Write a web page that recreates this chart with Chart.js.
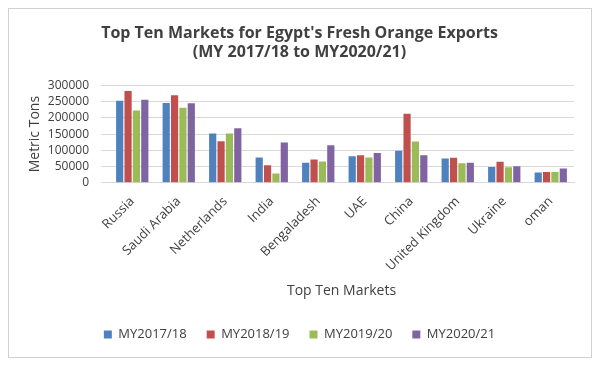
<!DOCTYPE html>
<html>
<head>
<meta charset="utf-8">
<script src="https://cdn.jsdelivr.net/npm/chart.js@4"></script>
<style>
  body { margin: 0; background: #fff; }
  #wrap { width: 600px; height: 367px; }
</style>
</head>
<body>
<div id="wrap"><canvas id="naranjas"></canvas></div>
<script>
const mercados = ["Russia", "Saudi Arabia", "Netherlands", "India", "Bengaladesh", "UAE", "China", "United Kingdom", "Ukraine", "oman"];
const my1718 = [253000, 246000, 152000, 78000, 62000, 82000, 99000, 75000, 49000, 32000];
const my1819 = [283000, 270000, 128000, 54000, 72000, 85000, 213000, 77000, 65000, 33000];
const my1920 = [223000, 231000, 152000, 29000, 66000, 78000, 127000, 60000, 48000, 33000];
const my2021 = [256000, 245000, 168000, 124000, 116000, 92000, 85000, 62000, 51000, 44000];
const ticksY = [0, 50000, 100000, 150000, 200000, 250000, 300000];

const fuente = "'Open Sans', 'Liberation Sans', sans-serif";

const marco = {
  id: "marco",
  beforeDraw(chart) {
    const c = chart.ctx;
    c.save();
    c.fillStyle = "#fff";
    c.fillRect(0, 0, chart.width, chart.height);
    c.strokeStyle = "#d0d0d0";
    c.lineWidth = 1;
    c.strokeRect(8.5, 8.5, 583, 349);
    c.restore();
  },
};

const serie = (label, data, color) => ({
  label: label,
  data: data,
  backgroundColor: color,
  borderWidth: 0,
  categoryPercentage: 0.72,
  barPercentage: 0.86,
});

new Chart(document.getElementById("naranjas"), {
  type: "bar",
  data: {
    labels: mercados,
    datasets: [
      serie("MY2017/18", my1718, "#4F81BD"),
      serie("MY2018/19", my1819, "#C0504D"),
      serie("MY2019/20", my1920, "#9BBB59"),
      serie("MY2020/21", my2021, "#8064A2"),
    ],
  },
  options: {
    responsive: true,
    maintainAspectRatio: false,
    animation: false,
    layout: { padding: { left: 25, right: 26, top: 24, bottom: 16 } },
    plugins: {
      title: {
        display: true,
        text: ["Top Ten Markets for Egypt's Fresh Orange Exports", "(MY 2017/18 to MY2020/21)"],
        color: "#404040",
        font: { family: fuente, size: 16, weight: "bold" },
        padding: { top: 0, bottom: 23 },
        lineHeight: 1.25,
      },
      legend: {
        position: "bottom",
        labels: {
          color: "#404040",
          font: { family: fuente, size: 13 },
          boxWidth: 8,
          boxHeight: 8,
          padding: 20,
        },
      },
      tooltip: { enabled: false },
    },
    scales: {
      x: {
        grid: { display: false },
        border: { color: "#d9d9d9" },
        ticks: {
          color: "#404040",
          font: { family: fuente, size: 13 },
          maxRotation: 45,
          minRotation: 45,
          autoSkip: false,
        },
        title: {
          display: true,
          text: "Top Ten Markets",
          color: "#404040",
          font: { family: fuente, size: 14 },
          padding: { top: 5, bottom: 9 },
        },
      },
      y: {
        min: 0,
        max: 300000,
        afterBuildTicks: (axis) => {
          axis.ticks = ticksY.map((v) => ({ value: v }));
        },
        afterFit: (axis) => {
          axis.width = 84;
        },
        grid: { color: "#d9d9d9" },
        border: { display: false },
        ticks: {
          color: "#404040",
          font: { family: fuente, size: 12 },
          padding: 12,
          autoSkip: false,
          callback: (v) => String(v),
        },
        title: {
          display: true,
          text: "Metric Tons",
          color: "#404040",
          font: { family: fuente, size: 14 },
          padding: 2,
        },
      },
    },
  },
  plugins: [marco],
});
</script>
</body>
</html>
